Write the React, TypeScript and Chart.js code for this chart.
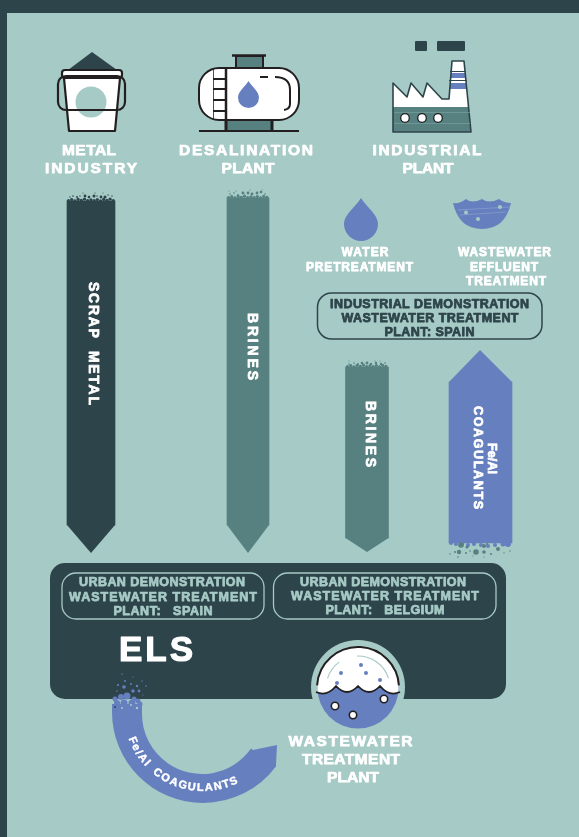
import React, { useEffect, useRef } from "react";
import { Chart, registerables } from "chart.js";

Chart.register(...registerables);

const flowNames = ["SCRAP  METAL", "BRINES", "BRINES", "COAGULANTS"];
const flowCentres = [91, 248, 367, 480.5];
const flowWidths = [48, 42, 43, 63];
const flowStarts = [201, 198, 367, 382];
const flowEnds = [525, 525, 538, 543];
const flowColours = ["#2E444B", "#578080", "#578080", "#667FBF"];

const sourceLabels = [["METAL", "INDUSTRY"], ["DESALINATION", "PLANT"], ["INDUSTRIAL", "PLANT"]];
const treatmentLabels = [["WATER", "PRETREATMENT"], ["WASTEWATER", "EFFLUENT", "TREATMENT"]];
const industrialDemo = ["INDUSTRIAL DEMONSTRATION", "WASTEWATER TREATMENT", "PLANT: SPAIN"];
const urbanSpain = ["URBAN DEMONSTRATION", "WASTEWATER TREATMENT", "PLANT:   SPAIN"];
const urbanBelgium = ["URBAN DEMONSTRATION", "WASTEWATER TREATMENT", "PLANT:   BELGIUM"];
const plantLabel = ["WASTEWATER", "TREATMENT", "PLANT"];
const arcLabel = "Fe/Al COAGULANTS";

const BG = "#A6CAC5", DARK = "#2E444B", TEAL = "#578080", BLUE = "#667FBF", INK = "#231F20", WHITE = "#FFFFFF";
const FONT = '"Liberation Sans"';

function tools(chart: any) {
  const c = chart.ctx as CanvasRenderingContext2D;
  const X = (v: number) => chart.scales.x.getPixelForValue(v);
  const Y = (v: number) => chart.scales.y.getPixelForValue(v);
  const poly = (pts: number[][], fill?: string, stroke?: string, lw = 2) => {
    c.beginPath();
    pts.forEach((p, i) => (i ? c.lineTo(X(p[0]), Y(p[1])) : c.moveTo(X(p[0]), Y(p[1]))));
    c.closePath();
    if (fill) { c.fillStyle = fill; c.fill(); }
    if (stroke) { c.strokeStyle = stroke; c.lineWidth = lw; c.lineJoin = "round"; c.stroke(); }
  };
  const rr = (x0: number, y0: number, x1: number, y1: number, r: number, fill?: string, stroke?: string, lw = 2) => {
    c.beginPath();
    c.roundRect(X(x0), Y(y0), X(x1) - X(x0), Y(y1) - Y(y0), r);
    if (fill) { c.fillStyle = fill; c.fill(); }
    if (stroke) { c.strokeStyle = stroke; c.lineWidth = lw; c.stroke(); }
  };
  const line = (x0: number, y0: number, x1: number, y1: number, col: string, lw = 2) => {
    c.beginPath(); c.moveTo(X(x0), Y(y0)); c.lineTo(X(x1), Y(y1));
    c.strokeStyle = col; c.lineWidth = lw; c.lineCap = "butt"; c.stroke();
  };
  const dot = (x: number, y: number, r: number, fill: string, stroke?: string, lw = 1.5) => {
    c.beginPath(); c.arc(X(x), Y(y), r, 0, Math.PI * 2);
    c.fillStyle = fill; c.fill();
    if (stroke) { c.strokeStyle = stroke; c.lineWidth = lw; c.stroke(); }
  };
  const drop = (x: number, top: number, bot: number, w: number, fill: string) => {
    const r = w / 2, cy = bot - r;
    c.beginPath();
    c.moveTo(X(x), Y(top));
    c.bezierCurveTo(X(x + r * 0.35), Y(top + (bot - top) * 0.22), X(x + r), Y(cy - r * 0.55), X(x + r), Y(cy));
    c.arc(X(x), Y(cy), r, 0, Math.PI);
    c.bezierCurveTo(X(x - r), Y(cy - r * 0.55), X(x - r * 0.35), Y(top + (bot - top) * 0.22), X(x), Y(top));
    c.fillStyle = fill; c.fill();
  };
  const text = (s: string, cx: number, cy: number, size: number, width: number, col: string, rot = 0, heavy = 0.75) => {
    c.save();
    c.translate(X(cx), Y(cy));
    if (rot) c.rotate(rot);
    c.font = `bold ${size}px ${FONT}`;
    c.textAlign = "left";
    c.textBaseline = "middle";
    (c as any).letterSpacing = "0px";
    const w0 = c.measureText(s).width;
    const sp = s.length > 1 ? (width - w0) / (s.length - 1) : 0;
    (c as any).letterSpacing = `${sp}px`;
    c.fillStyle = col;
    c.strokeStyle = col;
    c.lineWidth = heavy;
    c.lineJoin = "round";
    if (heavy > 0) c.strokeText(s, -width / 2, 0.5);
    c.fillText(s, -width / 2, 0.5);
    (c as any).letterSpacing = "0px";
    c.restore();
  };
  return { c, X, Y, poly, rr, line, dot, drop, text };
}

const infographic = {
  id: "infographic",
  beforeDatasetsDraw(chart: any) {
    const { c, X, Y, rr } = tools(chart);
    c.fillStyle = DARK;
    c.fillRect(X(0), Y(0), X(579), Y(13));
    c.fillRect(X(0), Y(0), X(7), Y(837));
    rr(50, 563, 506, 699, 15, DARK);
  },
  afterDatasetsDraw(chart: any) {
    const { c, X, Y, poly, rr, line, dot, drop, text } = tools(chart);

    // arrow heads of the flows
    const tips = [553, 553, 552];
    [0, 1, 2].forEach((i) => {
      const h = flowWidths[i] / 2;
      poly([[flowCentres[i] - h, flowEnds[i]], [flowCentres[i] + h, flowEnds[i]], [flowCentres[i], tips[i]]], flowColours[i]);
    });
    poly([[449, 382], [512, 382], [480, 350]], BLUE);

    // rough ends of the flows
    const roughTop = (x0: number, x1: number, y: number, col: string, extra: number[][]) => {
      const offs = [0.6, -0.4, 0.8, -0.6, 0.3, -0.8, 0.5, -0.2];
      for (let x = x0 + 1.5, i = 0; x < x1; x += 3.2, i++) dot(x, y + offs[i % 8], 1.6, col);
      extra.forEach((d) => dot(d[0], d[1], d[2], col));
    };
    roughTop(67, 115, 200, DARK, [[70,197,.7],[73,196,.8],[77,197,1],[80,196,.7],[85,196,1.4],[89,197,1.3],[94,196,1.5],[97,196,.7],[101,197,1.4],[105,197,1.5],[108,195,.7],[112,196,.7],[83,193,.5],[95,193,.6],[103,193,.5]]);
    roughTop(227, 269, 197, TEAL, [[230,194,.8],[234,193,.8],[238,195,.9],[243,193,1.4],[248,193,1.4],[252,194,1.4],[257,193,1.4],[261,192,1.3],[265,194,.8],[229,191,.5],[236,191,.5],[250,190,.6],[262,190,.5]]);
    roughTop(346, 388, 366, TEAL, [[349,364,.8],[354,363,.8],[358,364,1],[362,363,1.3],[367,363,1.4],[371,364,1.2],[376,363,1.2],[381,364,1.2],[385,363,.8],[349,361,.5],[375,361,.5],[380,361,.5]]);
    ([[451,543,2],[456,544,2],[462,544,2],[468,545,2],[474,544,2],[481,545,2],[488,546,2],[495,545,2],[503,544,2.5],[508,544,3]] as number[][]).forEach((d) => dot(d[0], d[1], d[2], BLUE));
    ([[461,545,2.8],[467,547,1.5],[459,552,2.2],[476,552,2.8],[484,552,1.8],[484,546,2],[498,549,2],[487,544,1],[455,552,1],[466,553,1],[470,551,.8],[491,554,1],[504,553,.7],[510,551,.7],[450,554,.7],[473,556,.6],[458,557,.8],[484,557,.6]] as number[][]).forEach((d) => dot(d[0], d[1], d[2], TEAL));

    // metal bucket icon
    poly([[92, 52], [68, 70], [117, 70]], DARK);
    poly([[64, 78], [120, 78], [115, 131], [69, 131]], WHITE, INK, 2.2);
    rr(62, 70, 122, 78, 3, WHITE, INK, 2.2);
    dot(91, 102, 15.5, BG);
    rr(58, 76, 125, 110, 8, undefined, INK, 2.2);

    // tank icon
    rr(236, 56, 263, 68, 0, TEAL, INK, 2);
    line(232, 55.5, 266, 55.5, INK, 2.5);
    rr(226, 120, 272, 130, 0, TEAL);
    line(226, 120, 226, 131, INK, 3);
    line(272, 120, 272, 131, INK, 3);
    rr(199, 68, 299, 120, 20, WHITE, INK, 2);
    line(226, 68, 226, 120, INK, 2.5);
    line(213.5, 69, 213.5, 119, INK, 0.8);
    [79, 89, 100, 111].forEach((y) => line(213, y, 226, y, INK, 2));
    line(199, 131, 299, 131, INK, 2);
    drop(248.5, 81, 108, 21, BLUE);
    line(260, 77, 268, 77, INK, 2);
    c.beginPath();
    c.moveTo(X(275), Y(77));
    c.quadraticCurveTo(X(290), Y(77), X(290), Y(90));
    c.lineTo(X(290), Y(104));
    c.quadraticCurveTo(X(290), Y(109), X(284), Y(110));
    c.strokeStyle = INK; c.lineWidth = 2; c.stroke();

    // factory icon
    rr(415, 41, 427, 51, 1, DARK);
    rr(437, 41, 465, 51, 1, DARK);
    const factory = [[393, 132], [393, 83], [407, 97], [411, 83], [423, 97], [427, 83], [442, 99], [449, 99], [452, 61], [464, 61], [471, 132]];
    poly(factory, WHITE);
    c.save();
    c.beginPath(); c.rect(X(385), Y(107), X(100) - X(0), Y(30) - Y(0)); c.clip();
    poly(factory, TEAL);
    c.restore();
    c.save();
    c.beginPath(); c.rect(X(445), Y(73), X(30) - X(0), Y(5) - Y(0)); c.rect(X(445), Y(83), X(30) - X(0), Y(6) - Y(0)); c.clip();
    poly(factory, BLUE);
    c.restore();
    line(450, 71.5, 466, 71.5, DARK, 1);
    line(449, 80.5, 467, 80.5, DARK, 1);
    poly(factory, undefined, DARK, 1.6);
    line(394, 112.5, 470, 112.5, "#7FA5A3", 0.6);
    line(394, 123.5, 470, 123.5, "#7FA5A3", 0.6);
    [405, 422, 438].forEach((x) => dot(x, 118, 4.3, WHITE, INK, 1.3));

    // source labels
    text(sourceLabels[0][0], 89, 150, 15.5, 54, WHITE);
    text(sourceLabels[0][1], 91, 168, 15.5, 92, WHITE);
    text(sourceLabels[1][0], 246, 150, 15.5, 134, WHITE);
    text(sourceLabels[1][1], 248, 168, 15.5, 53, WHITE);
    text(sourceLabels[2][0], 427, 150, 15.5, 109, WHITE);
    text(sourceLabels[2][1], 428, 168, 15.5, 51, WHITE);

    // treatment icons
    drop(361, 198, 241, 34, BLUE);
    c.beginPath();
    c.moveTo(X(453), Y(203));
    c.quadraticCurveTo(X(460), Y(204), X(466), Y(199));
    c.quadraticCurveTo(X(472), Y(204), X(482), Y(199));
    c.quadraticCurveTo(X(489), Y(204), X(499), Y(199));
    c.quadraticCurveTo(X(504), Y(203), X(511), Y(203));
    c.quadraticCurveTo(X(505), Y(229), X(482), Y(229));
    c.quadraticCurveTo(X(459), Y(229), X(453), Y(203));
    c.fillStyle = BLUE; c.fill();
    line(458, 210, 510, 207, "#8CA0CF", 0.7);
    line(460, 215, 506, 212, "#8CA0CF", 0.7);
    dot(466, 212.5, 2, BG);
    dot(500, 207, 2, BG);
    dot(478, 219, 2, BG);

    text(treatmentLabels[0][0], 365, 252, 12, 47, WHITE);
    text(treatmentLabels[0][1], 359.5, 267, 12, 107, WHITE);
    text(treatmentLabels[1][0], 504.5, 252, 12, 93, WHITE);
    text(treatmentLabels[1][1], 504, 267, 12, 68, WHITE);
    text(treatmentLabels[1][2], 506, 281, 12, 80, WHITE);

    // industrial demonstration pill
    rr(317.5, 293, 542, 339, 14, undefined, DARK, 1.5);
    text(industrialDemo[0], 429.5, 304, 12.5, 199, DARK);
    text(industrialDemo[1], 430, 318, 12.5, 177, DARK);
    text(industrialDemo[2], 429.5, 332, 12.5, 90, DARK);

    // urban pills
    rr(62, 573, 264, 619, 14, undefined, BG, 1.3);
    rr(273.5, 573, 496, 619, 14, undefined, BG, 1.3);
    text(urbanSpain[0], 162, 582, 12.5, 166, BG);
    text(urbanSpain[1], 163, 597, 12.5, 188, BG);
    text(urbanSpain[2], 163, 611, 12.5, 99, BG);
    text(urbanBelgium[0], 383, 582, 12.5, 166, BG);
    text(urbanBelgium[1], 385, 596, 12.5, 188, BG);
    text(urbanBelgium[2], 385, 610, 12.5, 119, BG);
    text("ELS", 156, 650.5, 35, 74, WHITE, 0, 1.2);

    // text on the flows
    text(flowNames[0], 93, 343.5, 14, 123, WHITE, Math.PI / 2);
    text(flowNames[1], 252, 346.5, 14, 67, WHITE, Math.PI / 2);
    text(flowNames[2], 370, 434, 14, 66, WHITE, Math.PI / 2);
    text("Fe/Al", 492, 458.5, 12.5, 31, WHITE, Math.PI / 2);
    text(flowNames[3], 478, 457.5, 12.5, 103, WHITE, Math.PI / 2);

    // wastewater plant badge
    c.beginPath();
    c.arc(X(358), Y(687), 47, 0, Math.PI * 2);
    c.fillStyle = BG; c.fill();
    c.save();
    c.beginPath();
    c.arc(X(358), Y(688), 40.5, 0, Math.PI * 2);
    c.clip();
    c.fillStyle = BLUE; c.fillRect(X(310), Y(680), 100, 60);
    c.fillStyle = WHITE; c.fillRect(X(310), Y(640), 100, 46);
    c.restore();
    const wave = () => {
      c.moveTo(X(316), Y(692));
      c.quadraticCurveTo(X(327), Y(697), X(336), Y(686));
      c.quadraticCurveTo(X(347), Y(698), X(358), Y(686));
      c.quadraticCurveTo(X(369), Y(698), X(380), Y(686));
      c.quadraticCurveTo(X(389), Y(697), X(400), Y(692));
    };
    c.save();
    c.beginPath();
    c.arc(X(358), Y(688), 40.5, 0, Math.PI * 2);
    c.clip();
    c.beginPath(); wave(); c.lineTo(X(400), Y(640)); c.lineTo(X(316), Y(640)); c.closePath();
    c.fillStyle = WHITE; c.fill();
    c.restore();
    c.beginPath(); wave();
    c.strokeStyle = INK; c.lineWidth = 1.8; c.stroke();
    c.beginPath();
    c.arc(X(358), Y(688), 41, Math.PI * 1.02, Math.PI * 1.98);
    c.strokeStyle = INK; c.lineWidth = 2; c.stroke();
    c.beginPath();
    c.arc(X(358), Y(688), 32, Math.PI * 1.1, Math.PI * 1.3);
    c.strokeStyle = BG; c.lineWidth = 1.2; c.stroke();
    c.beginPath();
    c.arc(X(358), Y(688), 32, Math.PI * 1.49, Math.PI * 1.9);
    c.strokeStyle = BG; c.lineWidth = 1.2; c.stroke();
    ([[341, 673], [361, 665], [366, 673], [337, 683], [380, 680]] as number[][]).forEach((d) => dot(d[0], d[1], 2, BLUE));
    ([[335, 706], [353, 715], [384, 699]] as number[][]).forEach((d) => dot(d[0], d[1], 3.7, WHITE, INK, 1.6));

    text(plantLabel[0], 350.5, 741, 15.5, 124, WHITE);
    text(plantLabel[1], 351, 759, 15.5, 98, WHITE);
    text(plantLabel[2], 353, 777, 15.5, 52, WHITE);

    // returning coagulant arc
    c.beginPath();
    c.moveTo(X(112), Y(704));
    c.arc(X(203), Y(712), 91, Math.PI, Math.atan2(768 - 712, 278 - 203), true);
    c.lineTo(X(277), Y(745));
    c.lineTo(X(253), Y(750));
    c.arc(X(202), Y(714), 60, Math.atan2(36, 51), Math.PI, false);
    c.lineTo(X(142), Y(704));
    c.closePath();
    c.fillStyle = BLUE; c.fill();
    ([[115,699,2.5],[121,697,3],[127,696,3.5],[134,699,2.5],[138,701,2.5],[117,703,3],[124,703,3.5],[132,703,3.5],[140,704,2.5],[124,687,1.8],[133,691,1.8],[139,691,1.4],[125,681,1],[131,684,1],[137,686,1.2],[118,685,1.1],[122,674,.7],[133,677,.6],[142,681,.7],[146,686,.8],[117,691,.8],[143,695,.6]] as number[][]).forEach((d) => dot(d[0], d[1], d[2], BLUE));
    dot(115, 707, 1, DARK); dot(131, 705, 1, BG); dot(137, 708, 1.2, BG); dot(122, 708, 1, BG);

    // text along the arc
    const ang0 = (161 * Math.PI) / 180, ang1 = (63 * Math.PI) / 180;
    c.save();
    c.font = `bold 11px ${FONT}`;
    c.textAlign = "center";
    c.textBaseline = "middle";
    const widths = [...arcLabel].map((ch) => c.measureText(ch === " " ? "  " : ch).width + 1.8);
    const total = widths.reduce((a, b) => a + b, 0);
    let run = 0;
    [...arcLabel].forEach((ch, i) => {
      const a = ang0 + ((ang1 - ang0) * (run + widths[i] / 2)) / total;
      run += widths[i];
      c.save();
      c.translate(X(203) + 76 * Math.cos(a), Y(712) + 76 * Math.sin(a));
      c.rotate(a - Math.PI / 2);
      c.fillStyle = WHITE;
      c.strokeStyle = WHITE;
      c.lineWidth = 0.4;
      c.strokeText(ch, 0, 0);
      c.fillText(ch, 0, 0);
      c.restore();
    });
    c.restore();
  },
};

export default function App() {
  const ref = useRef<HTMLCanvasElement | null>(null);
  useEffect(() => {
    if (!ref.current) return;
    const chart = new Chart(ref.current, {
      type: "bar",
      data: {
        datasets: flowNames.map((name, i) => ({
          label: name,
          data: [{ x: flowCentres[i], y: [flowStarts[i], flowEnds[i]] }],
          backgroundColor: flowColours[i],
          barThickness: flowWidths[i],
          grouped: false,
          borderWidth: 0,
        })) as any,
      },
      options: {
        animation: false,
        responsive: false,
        devicePixelRatio: 1,
        layout: { padding: 0 },
        plugins: { legend: { display: false }, tooltip: { enabled: false }, title: { display: false } },
        scales: {
          x: { type: "linear", min: 0, max: 579, display: false, offset: false },
          y: { type: "linear", min: 0, max: 837, reverse: true, display: false },
        },
      } as any,
      plugins: [infographic],
    });
    return () => chart.destroy();
  }, []);
  return (
    <div style={{ position: "fixed", left: 0, top: 0, width: 579, height: 837, background: BG, overflow: "hidden" }}>
      <canvas ref={ref} width={579} height={837} style={{ display: "block" }} />
    </div>
  );
}
